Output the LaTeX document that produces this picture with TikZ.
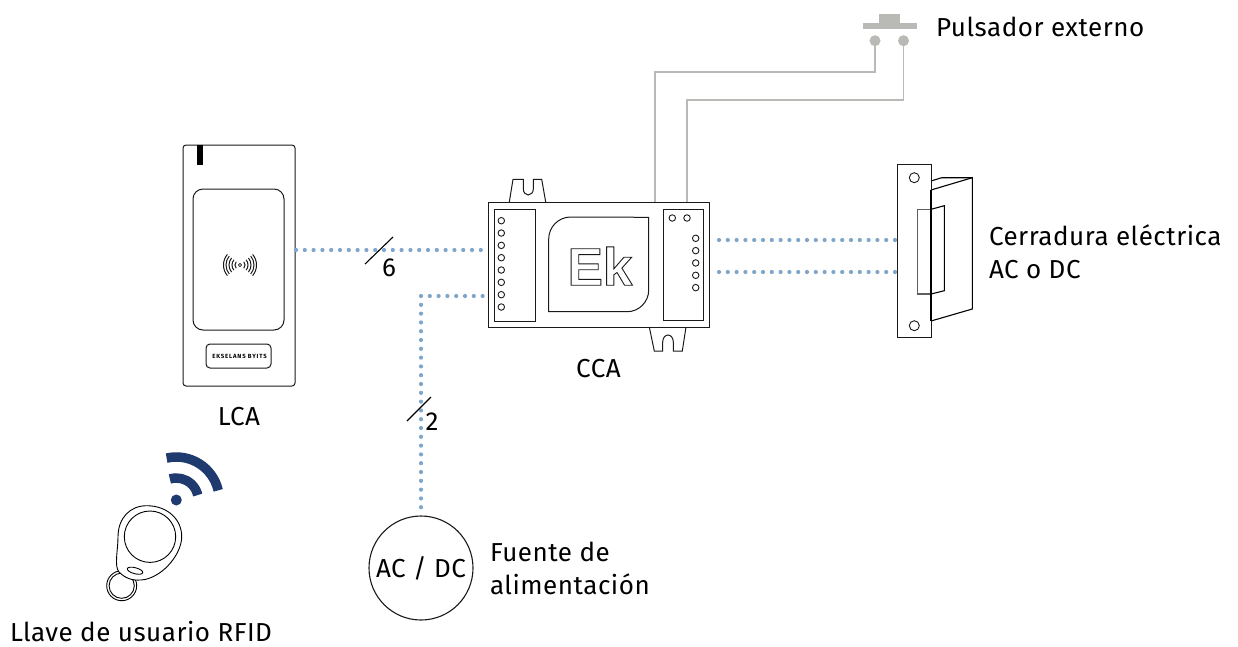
\documentclass[tikz,border=0pt]{standalone}
\usepackage{fontspec}
\setmainfont{Fira Sans}[LetterSpace=2]
\newfontfamily\ekfont{Liberation Sans Bold}
\newfontfamily\badgefont{Fira Sans}[LetterSpace=14]
\usetikzlibrary{calc}
\definecolor{dotblue}{HTML}{7FA6C9}
\definecolor{wire}{HTML}{B9B9B5}
\definecolor{navy}{HTML}{1F3A6E}
\definecolor{ink}{HTML}{1A1A1A}
\tikzset{
  dotline/.style={dotblue,line width=4.2pt,line cap=round,dash pattern=on 0pt off 8.8pt},
  wireline/.style={wire,line width=1.4pt},
  outline/.style={ink,line width=1pt},
  pin/.style={circle,draw=ink,line width=.9pt,fill=white,minimum size=6.5pt,inner sep=0pt,outer sep=0pt},
  lbl/.style={inner sep=0pt,outer sep=0pt,text=black,font=\fontsize{26}{33}\selectfont,align=left},
  tick/.style={black,line width=1.1pt},
  box/.style={draw=ink,line width=1pt,inner sep=0pt,outer sep=0pt},
}
\begin{document}
\begin{tikzpicture}[x=1pt,y=1pt,yscale=-1]
\useasboundingbox (0,0) rectangle (1238,646);
% ---- reader
\node[box,rounded corners=3pt,minimum width=112pt,minimum height=241pt] (reader) at (239,265.5) {};
\node[box,rounded corners=10pt,minimum width=91pt,minimum height=141pt] (readerpad) at (238.5,259.5) {};
\node[box,rounded corners=4pt,minimum width=65pt,minimum height=24pt] (badge) at (238.5,356) {};
\node[inner sep=0pt,font=\fontsize{6}{6}\badgefont\bfseries] (badgetext) at (239.5,356) {EKSELANS BYITS};
\fill[black] (197,145) rectangle (202.5,165);
\foreach \r in {5,8,11,14,16.5}{
  \draw[ink,line width=1pt] (240,265)++(-40:\r) arc[start angle=-40,end angle=40,radius=\r];
  \draw[ink,line width=1pt] (240,265)++(140:\r) arc[start angle=140,end angle=220,radius=\r];
}
\draw[ink,line width=.8pt] (240,265) circle[radius=1.6];
\node[lbl] (lcalabel) at (239,417) {LCA};
% ---- controller
\node[box,minimum width=221pt,minimum height=125pt] (cca) at (598.5,264.5) {};
\draw[outline] (509.3,202) -- (513,179.3) -- (523.3,179.3) -- (523.3,189) arc[start angle=180,end angle=0,radius=5,y radius=6] -- (533.3,179.3) -- (541.7,179.3) -- (545.7,202);
\draw[outline] (649.3,327) -- (654.3,351) -- (662.7,351) -- (662.7,342) arc[start angle=180,end angle=360,radius=5.3,y radius=7] -- (673.3,351) -- (682.3,351) -- (686,327);
\node[box,minimum width=41pt,minimum height=112pt] (leftblock) at (514.5,265.5) {};
\node[box,minimum width=40.5pt,minimum height=111pt] (rightblock) at (683.3,265) {};
\foreach \i in {0,...,7}{ \node[pin] (lp\i) at (501.3,{220.7+12.33*\i}) {}; }
\foreach \i in {0,...,4}{ \node[pin] (rp\i) at (695.7,{238.3+12.33*\i}) {}; }
\node[pin] (tp0) at (672.3,218) {};
\node[pin] (tp1) at (687,218) {};
\draw[outline] (548.7,311.7) -- (548.7,239) arc[start angle=180,end angle=270,radius=22] -- (648.7,217.3) -- (648.7,290) arc[start angle=0,end angle=90,radius=21.7] -- cycle;
\node[inner sep=0pt,font=\fontsize{53}{53}\ekfont\special{pdf:code q 1 Tr .9 w 0.1 G}] (ek) at (600,266) {Ek\special{pdf:code Q}};
\node[lbl] (ccalabel) at (598.5,369) {CCA};
% ---- lock
\draw[black,line width=1.1pt] (931,181) -- (941.7,177.7) -- (972.3,177.7) -- (972.3,309) -- (931,321);
\draw[black,line width=1.1pt] (931,190) -- (972.3,177.7);
\node[box,minimum width=34.4pt,minimum height=172.7pt] (plate) at (914.5,251.3) {};
\draw[ink!70,line width=1.2pt] (931,209.3) -- (917.7,209.3) -- (917.7,294) -- (931,294);
\draw[black,line width=1.1pt] (931,209.3) -- (944.3,205.7) -- (944.3,290.7) -- (931,294);
\draw[black,line width=1.8pt] (931,190) -- (931,321);
\node[pin,minimum size=10pt] (hole1) at (914.3,177.7) {};
\node[pin,minimum size=10pt] (hole2) at (914.3,325.7) {};
\node[lbl,anchor=north west] (locklabel) at (989,225) {Cerradura eléctrica\\AC o DC};
% ---- button
\fill[wire] (862.7,23.3) rectangle (916.7,29);
\fill[wire] (879,14) rectangle (900,23.3);
\node[circle,fill=wire,minimum size=11pt,inner sep=0pt] (b1) at (875,40.7) {};
\node[circle,fill=wire,minimum size=11pt,inner sep=0pt] (b2) at (903.5,40.7) {};
\node[lbl,anchor=west] (btnlabel) at (936,27) {Pulsador externo};
\coordinate (w1) at (655,202);
\coordinate (w2) at (687,202);
\draw[wireline] (w1) -- (655,72) -| (b1);
\draw[wireline] (w2) -- (687,100) -| (b2);
% ---- supply
\node[circle,draw=ink,line width=1.1pt,minimum size=104pt,inner sep=0pt] (psu) at (421,568) {};
\node[lbl] (psutext) at (421,568) {AC / DC};
\node[lbl,anchor=north west] (psulabel) at (490,542) {Fuente de\\alimentación};
% ---- dotted connectors
\coordinate (cl1) at (484,250);
\coordinate (cl2) at (482.6,296);
\coordinate (cr1) at (711,240);
\coordinate (cr2) at (711,272);
\coordinate (lk1) at (895,240);
\coordinate (lk2) at (895,272);
\draw[dotline] (reader.east |- cl1) ++(1,0) -- (cl1);
\draw[dotline] (cl2) -- (421,296) -- (psu.north);
\draw[dotline] (lk1) -- (cr1);
\draw[dotline] (lk2) -- (cr2);
\draw[tick] (365,264) -- (393,237);
\node[lbl] (six) at (389,268) {6};
\draw[tick] (407,421) -- (431,397);
\node[lbl] (two) at (432,422) {2};
% ---- fob
\draw[black,line width=.9pt] (121.7,585.7) circle[radius=15];
\draw[black,line width=.9pt] (121.7,585.7) circle[radius=12.6];
\draw[black,line width=.9pt,fill=white] (146.7,505.7)
  .. controls (168,505.7) and (182,520) .. (181.7,537)
  .. controls (181.5,553) and (165,575) .. (145,579.5)
  .. controls (135,581) and (127,580) .. (119,572)
  .. controls (114,566) and (118,550) .. (118,537)
  .. controls (118,518) and (130,505.7) .. (146.7,505.7) -- cycle;
\draw[black,line width=.9pt] (150,536.7) circle[radius=25.7];
\draw[black,line width=.9pt,rotate around={15:(135,570.7)}] (135,570.7) ellipse[x radius=8,y radius=3];
\fill[navy] (176.3,500) circle[radius=5.5];
\draw[navy,line width=9.5pt] (176.3,500)++(-107:22) arc[start angle=-107,end angle=-13,radius=22];
\draw[navy,line width=9.5pt] (176.3,500)++(-103:43) arc[start angle=-103,end angle=-13,radius=43];
\node[lbl] (foblabel) at (141,632) {Llave de usuario RFID};
\end{tikzpicture}
\end{document}
